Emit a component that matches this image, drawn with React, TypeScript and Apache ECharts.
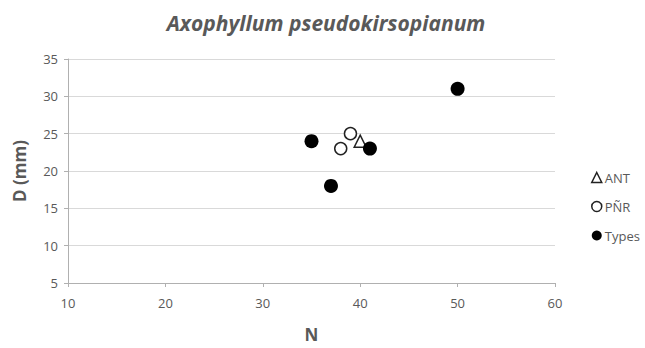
import React, { useEffect, useRef } from "react";
import * as echarts from "echarts";

const antData: number[][] = [[40, 24]];
const pnrData: number[][] = [[38, 23], [39, 25]];
const typesData: number[][] = [[35, 24], [37, 18], [41, 23], [50, 31]];
const xTicks = [10, 20, 30, 40, 50, 60];
const yTicks = [5, 10, 15, 20, 25, 30, 35];

const FONT = "'Open Sans', 'Liberation Sans', sans-serif";
const GRAY = "#595959";

export default function App() {
  const ref = useRef<HTMLDivElement>(null);
  useEffect(() => {
    if (!ref.current) return;
    const chart = echarts.init(ref.current, undefined, { renderer: "svg" });
    chart.setOption({
      animation: false,
      backgroundColor: "#ffffff",
      title: {
        text: "Axophyllum pseudokirsopianum",
        left: 321,
        top: 7,
        textAlign: "center",
        textStyle: { fontFamily: FONT, fontSize: 21, fontWeight: "bold", fontStyle: "italic", color: GRAY },
      },
      grid: { left: 68, top: 59, width: 487, height: 232 },
      legend: {
        orient: "vertical",
        left: 586,
        top: 166,
        itemGap: 16,
        itemWidth: 10,
        itemHeight: 10,
        textStyle: { fontFamily: FONT, fontSize: 13, color: GRAY, padding: [0, 0, 0, -2] },
        data: [
          { name: "ANT", icon: "triangle", itemStyle: { color: "#fff", borderColor: "#222", borderWidth: 1.5, opacity: 1 } },
          { name: "PÑR", icon: "circle", itemStyle: { color: "#fff", borderColor: "#222", borderWidth: 1.5, opacity: 1 } },
          { name: "Types", icon: "circle", itemStyle: { color: "#000", opacity: 1 } },
        ],
      },
      xAxis: {
        type: "value",
        min: xTicks[0],
        max: xTicks[xTicks.length - 1],
        interval: 10,
        name: "N",
        nameLocation: "middle",
        nameGap: 43,
        nameTextStyle: { fontFamily: FONT, fontSize: 17, fontWeight: "bold", color: GRAY },
        axisLine: { show: true, lineStyle: { color: "#b0b0b0", width: 1 } },
        axisTick: { show: true, length: 4, lineStyle: { color: "#b0b0b0" } },
        axisLabel: { fontFamily: FONT, fontSize: 13, color: GRAY, margin: 13 },
        splitLine: { show: false },
      },
      yAxis: {
        type: "value",
        min: yTicks[0],
        max: yTicks[yTicks.length - 1],
        interval: 5,
        name: "D (mm)",
        nameLocation: "middle",
        nameGap: 40,
        nameTextStyle: { fontFamily: FONT, fontSize: 17, fontWeight: "bold", color: GRAY },
        axisLine: { show: true, lineStyle: { color: "#b0b0b0", width: 1 } },
        axisTick: { show: true, length: 4, lineStyle: { color: "#b0b0b0" } },
        axisLabel: { fontFamily: FONT, fontSize: 13, color: GRAY, margin: 10 },
        splitLine: { show: true, lineStyle: { color: "#d9d9d9", width: 1 } },
      },
      series: [
        {
          name: "ANT",
          type: "scatter",
          data: antData,
          symbol: "triangle",
          symbolSize: 12,
          itemStyle: { color: "#fff", borderColor: "#222", borderWidth: 1.5, opacity: 1 },
          z: 3,
        },
        {
          name: "PÑR",
          type: "scatter",
          data: pnrData,
          symbol: "circle",
          symbolSize: 12,
          itemStyle: { color: "#fff", borderColor: "#222", borderWidth: 1.5, opacity: 1 },
          z: 3,
        },
        {
          name: "Types",
          type: "scatter",
          data: typesData,
          symbol: "circle",
          symbolSize: 14,
          itemStyle: { color: "#000", opacity: 1 },
          z: 4,
        },
      ],
    });
    return () => chart.dispose();
  }, []);
  return <div ref={ref} style={{ width: 645, height: 348, position: "absolute", left: 0, top: 0 }} />;
}
